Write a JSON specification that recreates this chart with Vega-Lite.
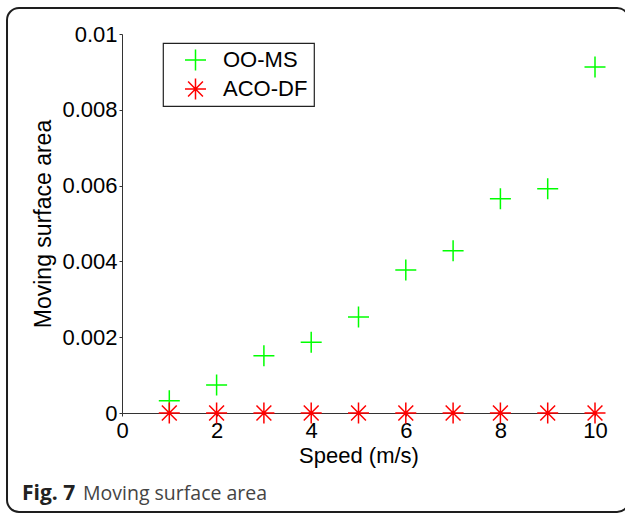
{
  "$schema": "https://vega.github.io/schema/vega-lite/v6.json",
  "width": 473,
  "height": 379,
  "autosize": {"type": "none"},
  "padding": {"left": 122, "top": 34, "right": 30, "bottom": 102},
  "background": "white",
  "config": {
    "view": {"stroke": null},
    "font": "Liberation Sans",
    "legend": {"strokeWidth": 1.2},
    "axis": {
      "grid": false,
      "domainColor": "#333333",
      "tickColor": "#333333",
      "tickSize": 3,
      "labelFont": "Liberation Sans",
      "labelFontSize": 22,
      "labelColor": "#000000",
      "titleFont": "Liberation Sans",
      "titleFontSize": 22,
      "titleFontWeight": "normal",
      "titleColor": "#000000",
      "labelFlush": false,
      "labelOverlap": false
    }
  },
  "layer": [
    {
      "data": {"values": [{}]},
      "mark": {"type": "rect", "filled": false, "stroke": "#1e1e1e", "strokeWidth": 2, "cornerRadius": 12, "clip": false},
      "encoding": {
        "x": {"datum": -2.431, "type": "quantitative"},
        "x2": {"datum": 10.72},
        "y": {"datum": 0.010686, "type": "quantitative"},
        "y2": {"datum": -0.002612}
      }
    },
    {
      "data": {"values": [{}]},
      "mark": {"type": "text", "align": "left", "baseline": "alphabetic", "font": "Open Sans", "fontSize": 21, "fontWeight": "bold", "color": "#222222", "clip": false, "text": "Fig. 7"},
      "encoding": {
        "x": {"datum": -2.114, "type": "quantitative"},
        "y": {"datum": -0.002296, "type": "quantitative"}
      }
    },
    {
      "data": {"values": [{}]},
      "mark": {"type": "text", "align": "left", "baseline": "alphabetic", "font": "Open Sans", "fontSize": 19.5, "fontWeight": "normal", "color": "#444444", "clip": false, "text": "Moving surface area"},
      "encoding": {
        "x": {"datum": -0.8245, "type": "quantitative"},
        "y": {"datum": -0.002296, "type": "quantitative"}
      }
    },
    {
      "data": {
        "values": [
          {"speed": 1, "area": 0.000325, "series": "OO-MS"},
          {"speed": 2, "area": 0.00074, "series": "OO-MS"},
          {"speed": 3, "area": 0.00151, "series": "OO-MS"},
          {"speed": 4, "area": 0.00187, "series": "OO-MS"},
          {"speed": 5, "area": 0.00253, "series": "OO-MS"},
          {"speed": 6, "area": 0.00377, "series": "OO-MS"},
          {"speed": 7, "area": 0.00428, "series": "OO-MS"},
          {"speed": 8, "area": 0.00565, "series": "OO-MS"},
          {"speed": 9, "area": 0.00592, "series": "OO-MS"},
          {"speed": 10, "area": 0.00913, "series": "OO-MS"},
          {"speed": 1, "area": 0, "series": "ACO-DF"},
          {"speed": 2, "area": 0, "series": "ACO-DF"},
          {"speed": 3, "area": 0, "series": "ACO-DF"},
          {"speed": 4, "area": 0, "series": "ACO-DF"},
          {"speed": 5, "area": 0, "series": "ACO-DF"},
          {"speed": 6, "area": 0, "series": "ACO-DF"},
          {"speed": 7, "area": 0, "series": "ACO-DF"},
          {"speed": 8, "area": 0, "series": "ACO-DF"},
          {"speed": 9, "area": 0, "series": "ACO-DF"},
          {"speed": 10, "area": 0, "series": "ACO-DF"}
        ]
      },
      "mark": {"type": "point", "filled": false, "size": 441, "strokeWidth": 1.5, "opacity": 1, "clip": false},
      "encoding": {
        "x": {
          "field": "speed",
          "type": "quantitative",
          "scale": {"domain": [0, 10], "nice": false, "zero": false},
          "axis": {"values": [0, 2, 4, 6, 8, 10], "title": "Speed (m/s)", "labelPadding": 4, "titlePadding": 4}
        },
        "y": {
          "field": "area",
          "type": "quantitative",
          "scale": {"domain": [0, 0.01], "nice": false, "zero": false},
          "axis": {"values": [0, 0.002, 0.004, 0.006, 0.008, 0.01], "format": ".3~f", "title": "Moving surface area", "titleFontSize": 23, "labelPadding": 2, "titlePadding": 6}
        },
        "color": {
          "field": "series",
          "type": "nominal",
          "scale": {"domain": ["OO-MS", "ACO-DF"], "range": ["#00ff00", "#ff0000"]},
          "legend": {
            "title": null,
            "orient": "none",
            "legendX": 41,
            "legendY": 9,
            "strokeColor": "#222222",
            "fillColor": "white",
            "padding": 6,
            "labelFont": "Liberation Sans",
            "labelFontSize": 22,
            "labelColor": "#000000",
            "symbolSize": 441,
            "symbolStrokeWidth": 1.5,
            "labelOffset": 16,
            "rowPadding": 7,
            "clipHeight": 22,
            "symbolOffset": 15
          }
        },
        "shape": {
          "field": "series",
          "type": "nominal",
          "scale": {
            "domain": ["OO-MS", "ACO-DF"],
            "range": [
              "M-1,0H1M0,-1V1",
              "M-1,0H1M0,-1V1M-0.7071,-0.7071L0.7071,0.7071M-0.7071,0.7071L0.7071,-0.7071"
            ]
          },
          "legend": {
            "title": null,
            "orient": "none",
            "legendX": 41,
            "legendY": 9,
            "strokeColor": "#222222",
            "fillColor": "white",
            "padding": 6,
            "labelFont": "Liberation Sans",
            "labelFontSize": 22,
            "labelColor": "#000000",
            "symbolSize": 441,
            "symbolStrokeWidth": 1.5,
            "labelOffset": 16,
            "rowPadding": 7,
            "clipHeight": 22,
            "symbolOffset": 15
          }
        }
      }
    }
  ]
}
